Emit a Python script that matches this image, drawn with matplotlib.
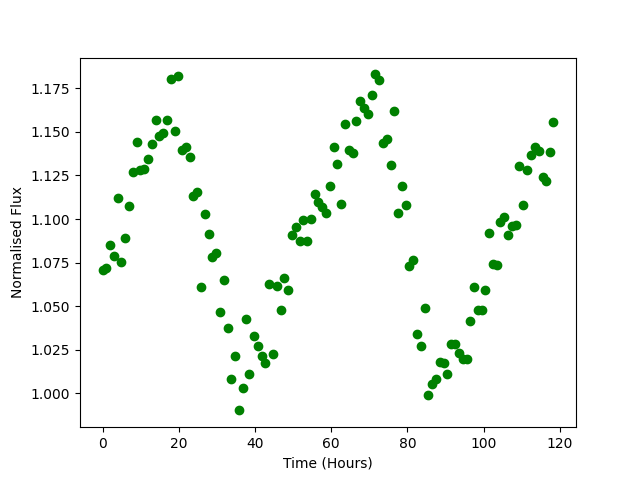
import matplotlib
matplotlib.use("Agg")
import matplotlib.pyplot as plt

time_hours = [0.0, 1.0, 1.84, 2.97, 4.0, 4.8, 5.86, 6.9, 7.97, 9.0,
              9.9, 11.0, 11.9, 12.95, 14.0, 14.7, 15.9, 16.9, 17.9, 19.0,
              19.9, 20.9, 22.0, 22.9, 23.7, 24.8, 25.8, 26.85, 27.9, 28.7,
              29.75, 30.8, 31.8, 32.9, 33.7, 34.8, 35.8, 36.8, 37.7, 38.5,
              39.7, 40.8, 41.8, 42.5, 43.7, 44.7, 45.8, 46.8, 47.6, 48.66,
              49.7, 50.8, 51.8, 52.6, 53.7, 54.7, 55.75, 56.65, 57.7, 58.65,
              59.7, 60.8, 61.5, 62.6, 63.6, 64.7, 65.8, 66.5, 67.6, 68.7,
              69.7, 70.7, 71.4, 72.6, 73.6, 74.6, 75.7, 76.5, 77.5, 78.6,
              79.6, 80.3, 81.5, 82.5, 83.5, 84.6, 85.4, 86.5, 87.5, 88.6,
              89.6, 90.4, 91.5, 92.5, 93.6, 94.6, 95.5, 96.5, 97.5, 98.6,
              99.5, 100.4, 101.45, 102.5, 103.5, 104.3, 105.4, 106.4, 107.5, 108.5,
              109.3, 110.4, 111.4, 112.5, 113.5, 114.4, 115.5, 116.4, 117.5, 118.3]

flux = [1.0706, 1.0721, 1.0853, 1.0790, 1.1119, 1.0752, 1.0893, 1.1077, 1.1271, 1.1444,
        1.1280, 1.1290, 1.1347, 1.1433, 1.1570, 1.1478, 1.1492, 1.1566, 1.1806, 1.1507,
        1.1819, 1.1394, 1.1415, 1.1358, 1.1132, 1.1157, 1.0612, 1.1031, 1.0916, 1.0782,
        1.0807, 1.0467, 1.0648, 1.0377, 1.0084, 1.0212, 0.9902, 1.0033, 1.0429, 1.0109,
        1.0331, 1.0274, 1.0212, 1.0174, 1.0629, 1.0228, 1.0618, 1.0480, 1.0664, 1.0595,
        1.0907, 1.0952, 1.0876, 1.0997, 1.0876, 1.1002, 1.1146, 1.1098, 1.1069, 1.1037,
        1.1192, 1.1415, 1.1318, 1.1088, 1.1547, 1.1394, 1.1381, 1.1565, 1.1675, 1.1635,
        1.1605, 1.1714, 1.1830, 1.1800, 1.1438, 1.1459, 1.1312, 1.1622, 1.1037, 1.1188,
        1.1083, 1.0728, 1.0767, 1.0343, 1.0270, 1.0492, 0.9993, 1.0056, 1.0084, 1.0182,
        1.0176, 1.0109, 1.0285, 1.0285, 1.0234, 1.0195, 1.0199, 1.0417, 1.0612, 1.0476,
        1.0476, 1.0595, 1.0922, 1.0744, 1.0738, 1.0985, 1.1010, 1.0911, 1.0958, 1.0964,
        1.1306, 1.1083, 1.1280, 1.1370, 1.1411, 1.1388, 1.1243, 1.1218, 1.1383, 1.1555]

fig, ax = plt.subplots(figsize=(6.4, 4.8), dpi=100)
ax.plot(time_hours, flux, 'go')
ax.set_xlabel('Time (Hours)')
ax.set_ylabel('Normalised Flux')
fig.savefig('out.png')
